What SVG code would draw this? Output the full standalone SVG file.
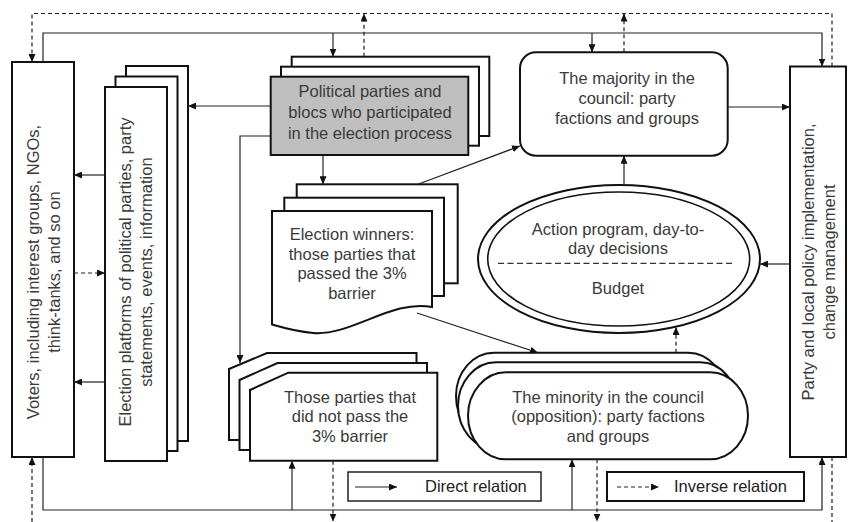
<svg xmlns="http://www.w3.org/2000/svg" width="848" height="522" viewBox="0 0 848 522">
<defs>
<style>
.sh{fill:#fff;stroke:#111;stroke-width:2}
.gr{fill:#bfbfbf;stroke:#111;stroke-width:2}
.t{font-family:"Liberation Sans",Arial,sans-serif;font-size:16.5px;fill:#3a3a3a;text-anchor:middle}
.tl{font-family:"Liberation Sans",Arial,sans-serif;font-size:16.5px;fill:#222}
.c{fill:none;stroke:#222;stroke-width:1.2}
.d{fill:none;stroke:#222;stroke-width:1.2;stroke-dasharray:4 3}
</style>
<marker id="ah" markerUnits="userSpaceOnUse" markerWidth="8" markerHeight="7" refX="8" refY="3.5" orient="auto">
<path d="M0,0 L8,3.5 L0,7 z" fill="#111"/>
</marker>
</defs>
<rect width="848" height="522" fill="#fff"/>

<g id="voters">
<rect class="sh" x="12" y="62" width="62" height="395"/>
<text class="t" transform="rotate(-90)" x="-272" y="39">Voters, including interest groups, NGOs,</text>
<text class="t" transform="rotate(-90)" x="-272" y="60">think-tanks, and so on</text>
</g>

<g id="platforms">
<rect class="sh" x="126" y="66" width="62" height="375"/>
<rect class="sh" x="115.5" y="76.5" width="62" height="374.5"/>
<rect class="sh" x="105" y="87" width="62" height="374"/>
<text class="t" transform="rotate(-90)" x="-272" y="131">Election platforms of political parties, party</text>
<text class="t" transform="rotate(-90)" x="-272" y="152">statements, events, information</text>
</g>

<g id="parties">
<rect class="sh" x="291.7" y="56.7" width="197.6" height="79.3"/>
<rect class="sh" x="281" y="66.7" width="198" height="79"/>
<rect class="gr" x="270.7" y="76.7" width="197.6" height="78.3"/>
<text class="t" x="370" y="97">Political parties and</text>
<text class="t" x="370" y="118">blocs who participated</text>
<text class="t" x="370" y="139">in the election process</text>
</g>

<g id="majority">
<rect class="sh" x="520" y="52.3" width="207.7" height="103.4" rx="16" ry="16"/>
<text class="t" x="627" y="83.5">The majority in the</text>
<text class="t" x="627" y="104">council: party</text>
<text class="t" x="627" y="124">factions and groups</text>
</g>

<g id="policy">
<rect class="sh" x="790" y="66.5" width="56" height="390.5"/>
<text class="t" transform="rotate(-90)" x="-262" y="814">Party and local policy implementation,</text>
<text class="t" transform="rotate(-90)" x="-262" y="835">change management</text>
</g>

<g id="winners">
<rect class="sh" x="296.7" y="184.3" width="161" height="99"/>
<rect class="sh" x="284.3" y="197.7" width="159.7" height="98.3"/>
<path class="sh" d="M272,211 H432 V307 C 392,299 352,336 313,333 C 296,331.5 284,328 272,324.5 Z"/>
<text class="t" x="352" y="240">Election winners:</text>
<text class="t" x="352" y="259.5">those parties that</text>
<text class="t" x="352" y="279">passed the 3%</text>
<text class="t" x="352" y="299">barrier</text>
</g>

<g id="program">
<ellipse class="sh" cx="619" cy="259" rx="141" ry="74"/>
<ellipse fill="none" stroke="#111" stroke-width="1.6" cx="618.7" cy="259" rx="131" ry="67"/>
<line x1="498" y1="263.3" x2="735" y2="263.3" stroke="#333" stroke-width="1.2" stroke-dasharray="6 3.5"/>
<text class="t" x="618" y="234.5">Action program, day-to-</text>
<text class="t" x="618" y="254">day decisions</text>
<text class="t" x="618" y="294">Budget</text>
</g>

<g id="losers">
<path class="sh" d="M229,369 L267,353 H416.5 V440 H229 Z"/>
<path class="sh" d="M239.5,380 L277.5,363 H427 V450 H239.5 Z"/>
<path class="sh" d="M250,390 L288.3,372.7 H437.3 V460.7 H250 Z"/>
<text class="t" x="350" y="402.5">Those parties that</text>
<text class="t" x="350" y="422">did not pass the</text>
<text class="t" x="350" y="442">3% barrier</text>
</g>

<g id="minority">
<rect class="sh" x="456" y="352.7" width="270" height="87" rx="38" ry="43.5"/>
<rect class="sh" x="458" y="362.3" width="280" height="87" rx="38" ry="43.5"/>
<rect class="sh" x="468" y="372.3" width="280" height="87" rx="38" ry="43.5"/>
<text class="t" x="608" y="402.5">The minority in the council</text>
<text class="t" x="608" y="422">(opposition): party factions</text>
<text class="t" x="608" y="442">and groups</text>
</g>

<g id="legend">
<rect x="348" y="472" width="193" height="29" fill="#fff" stroke="#222" stroke-width="1.5"/>
<line class="c" x1="355" y1="487" x2="397" y2="487" marker-end="url(#ah)"/>
<text class="tl" x="425" y="492">Direct relation</text>
<rect x="607" y="472" width="197" height="29" fill="#fff" stroke="#111" stroke-width="2"/>
<line class="d" x1="617" y1="487" x2="659" y2="487" marker-end="url(#ah)"/>
<text class="tl" x="674" y="492">Inverse relation</text>
</g>

<g id="connectors">
<!-- direct -->
<line class="c" x1="270.7" y1="106" x2="188" y2="106" marker-end="url(#ah)"/>
<line class="c" x1="105" y1="175" x2="74" y2="175" marker-end="url(#ah)"/>
<line class="c" x1="105" y1="382" x2="74" y2="382" marker-end="url(#ah)"/>
<path class="c" d="M270.7,136 H240 V363" marker-end="url(#ah)"/>
<line class="c" x1="323" y1="155" x2="323" y2="184.3" marker-end="url(#ah)"/>
<line class="c" x1="418" y1="184.3" x2="520" y2="146" marker-end="url(#ah)"/>
<line class="c" x1="417" y1="313" x2="538" y2="352.7" marker-end="url(#ah)"/>
<line class="c" x1="624" y1="185" x2="624" y2="155.7" marker-end="url(#ah)"/>
<line class="c" x1="727.7" y1="107" x2="790" y2="107" marker-end="url(#ah)"/>
<line class="c" x1="790" y1="264" x2="760" y2="264" marker-end="url(#ah)"/>
<path class="c" d="M43,62 V33 H822 V66.5" marker-end="url(#ah)"/>
<line class="c" x1="333" y1="33" x2="333" y2="56.7" marker-end="url(#ah)"/>
<line class="c" x1="592" y1="33" x2="592" y2="52.3" marker-end="url(#ah)"/>
<path class="c" d="M43,457 V510 H822 V457" marker-end="url(#ah)"/>
<line class="c" x1="292" y1="510" x2="292" y2="460.7" marker-end="url(#ah)"/>
<line class="c" x1="572" y1="510" x2="572" y2="459.3" marker-end="url(#ah)"/>
<!-- inverse -->
<line class="d" x1="74" y1="273" x2="105" y2="273" marker-end="url(#ah)"/>
<path class="d" d="M832,66.5 V13.5 H32 V62" marker-end="url(#ah)"/>
<line class="d" x1="364" y1="56.7" x2="364" y2="13.5" marker-end="url(#ah)"/>
<line class="d" x1="624" y1="52.3" x2="624" y2="13.5" marker-end="url(#ah)"/>
<line class="d" x1="676" y1="352.7" x2="676" y2="327" marker-end="url(#ah)"/>
<line class="d" x1="32" y1="522" x2="32" y2="457" marker-end="url(#ah)"/>
<line class="d" x1="333" y1="460.7" x2="333" y2="521.5" marker-end="url(#ah)"/>
<line class="d" x1="597" y1="459.3" x2="597" y2="521.5" marker-end="url(#ah)"/>
<line class="d" x1="832" y1="457" x2="832" y2="522"/>
</g>
</svg>
